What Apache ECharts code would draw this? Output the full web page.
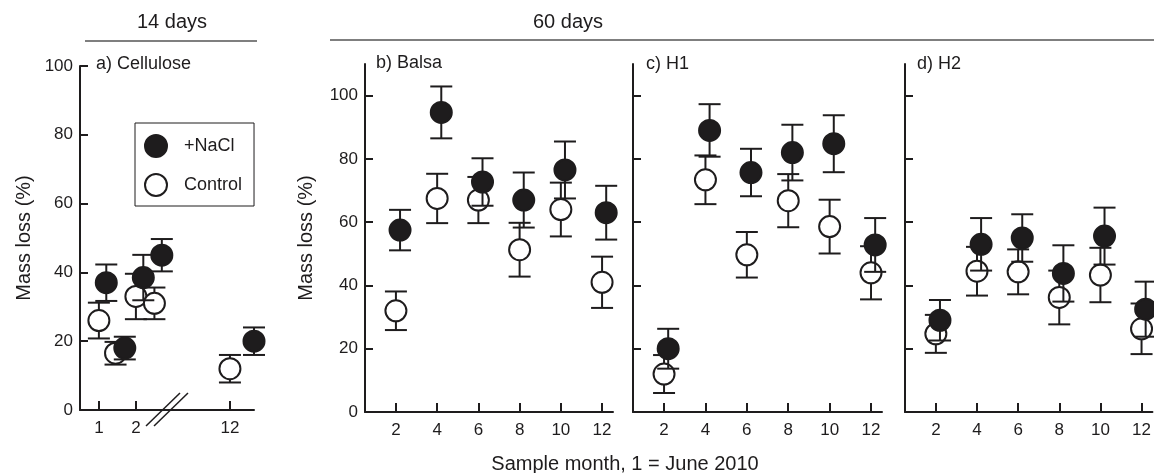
<!DOCTYPE html>
<html><head><meta charset="utf-8">
<script src="https://cdn.jsdelivr.net/npm/echarts@6/dist/echarts.min.js"></script>
<style>html,body{margin:0;padding:0;background:#fff}#c{width:1154px;height:473px}</style>
</head><body><div id="c"></div>
<script>
// ---------- data ----------
// a) Cellulose, 14 days (x = sample month as plotted, axis broken between 2.5 and 12)
const cellControlMonths = [1, 1.45, 2, 2.5, 12];
const cellControlMean   = [26, 16.5, 33, 31, 12];
const cellControlErr    = [5.2, 3.3, 6.6, 4.6, 4];
const cellNaClMonths    = [1.2, 1.7, 2.2, 2.7, 12.65];
const cellNaClMean      = [37, 18, 38.5, 45, 20];
const cellNaClErr       = [5.3, 3.3, 6.6, 4.7, 4];
const cellTickMonths    = [1, 2, 12];

// b-d) 60 days
const months60 = [2, 4, 6, 8, 10, 12];
const balsaControlMean = [32, 67.5, 67, 51.3, 64, 41];
const balsaControlErr  = [6.1, 7.8, 7.3, 8.5, 8.5, 8.1];
const balsaNaClMean    = [57.5, 94.7, 72.7, 67, 76.5, 63];
const balsaNaClErr     = [6.4, 8.2, 7.5, 8.7, 9, 8.5];
const h1ControlMean = [12, 73.4, 49.7, 66.8, 58.6, 44];
const h1ControlErr  = [6, 7.7, 7.2, 8.4, 8.5, 8.4];
const h1NaClMean    = [20, 89, 75.7, 82, 84.8, 52.8];
const h1NaClErr     = [6.3, 8.3, 7.5, 8.8, 9, 8.5];
const h2ControlMean = [24.7, 44.5, 44.3, 36.2, 43.3, 26.3];
const h2ControlErr  = [6, 7.7, 7.1, 8.5, 8.6, 8];
const h2NaClMean    = [29, 53, 55, 43.8, 55.6, 32.5];
const h2NaClErr     = [6.4, 8.3, 7.5, 8.9, 9, 8.7];

const yTicks = [0, 20, 40, 60, 80, 100];
const xTicks60 = [2, 4, 6, 8, 10, 12];
const seriesNames = ['+NaCl', 'Control'];
const panelTitles = ['a) Cellulose', 'b) Balsa', 'c) H1', 'd) H2'];

// ---------- styling ----------
const INK = '#1e1c1d';
const FONT = '"Liberation Sans", Arial, sans-serif';
const DODGE = 0.2;
// axis break mapping for panel a
function breakPos(m) { return m > 6 ? m - 12 + 4.54 : m; }

function errSeries(idx, xs, ys, es, z) {
  return {
    type: 'custom', xAxisIndex: idx, yAxisIndex: idx, z: z, silent: true, clip: false,
    encode: { x: 0, y: 1 },
    data: xs.map((x, i) => [x, ys[i], es[i]]),
    renderItem: function (params, api) {
      const x = api.value(0), y = api.value(1), e = api.value(2);
      const t = api.coord([x, y + e]), b = api.coord([x, y - e]);
      const w = 11, st = { stroke: INK, lineWidth: 2 };
      return { type: 'group', children: [
        { type: 'line', shape: { x1: t[0], y1: t[1], x2: b[0], y2: b[1] }, style: st },
        { type: 'line', shape: { x1: t[0] - w, y1: t[1], x2: t[0] + w, y2: t[1] }, style: st },
        { type: 'line', shape: { x1: b[0] - w, y1: b[1], x2: b[0] + w, y2: b[1] }, style: st }
      ]};
    }
  };
}
function pointSeries(idx, name, xs, ys, z) {
  const filled = name === seriesNames[0];
  return {
    type: 'scatter', name: name, xAxisIndex: idx, yAxisIndex: idx, z: z, clip: false,
    symbol: 'circle', symbolSize: 21,
    itemStyle: { color: filled ? INK : '#fff', borderColor: INK, borderWidth: 2, opacity: 1 },
    emphasis: { disabled: true },
    data: xs.map((x, i) => [x, ys[i]])
  };
}
function panelSeries(idx, cx, cm, ce, nx, nm, ne) {
  return [
    errSeries(idx, cx, cm, ce, 2),
    pointSeries(idx, seriesNames[1], cx, cm, 3),
    errSeries(idx, nx, nm, ne, 4),
    pointSeries(idx, seriesNames[0], nx, nm, 5)
  ];
}

const grids = [
  { left: 80, top: 66, width: 174, height: 344 },
  { left: 365, top: 64, width: 248, height: 348 },
  { left: 633, top: 64, width: 249, height: 348 },
  { left: 905, top: 64, width: 249, height: 348 }
];

const axisLine = { show: true, onZero: false, lineStyle: { color: INK, width: 2 } };
const labelStyle = { color: INK, fontSize: 17, fontFamily: FONT };

const xAxes = [
  {
    type: 'value', gridIndex: 0, min: 0.49, max: 5.19, splitLine: { show: false }, axisLine,
    axisTick: { show: true, inside: true, length: 9, lineStyle: { color: INK, width: 2 },
      customValues: cellTickMonths.map(breakPos) },
    axisLabel: Object.assign({ margin: 10, customValues: cellTickMonths.map(breakPos),
      formatter: v => { const i = cellTickMonths.findIndex(m => Math.abs(breakPos(m) - v) < 1e-6); return i >= 0 ? String(cellTickMonths[i]) : ''; } }, labelStyle)
  }
].concat([1, 2, 3].map(i => ({
  type: 'value', gridIndex: i, min: 0.5, max: 12.53, splitLine: { show: false }, axisLine,
  axisTick: { show: true, inside: true, length: 9, lineStyle: { color: INK, width: 2 }, customValues: xTicks60 },
  axisLabel: Object.assign({ margin: 10, customValues: xTicks60 }, labelStyle)
})));

const yAxes = [
  {
    type: 'value', gridIndex: 0, min: 0, max: 100, interval: 20, splitLine: { show: false }, axisLine,
    axisTick: { show: true, inside: true, length: 8, lineStyle: { color: INK, width: 2 } },
    axisLabel: Object.assign({ margin: 7 }, labelStyle),
    name: 'Mass loss (%)', nameLocation: 'middle', nameGap: 46,
    nameTextStyle: { color: INK, fontSize: 20, fontFamily: FONT }
  }
].concat([1, 2, 3].map(i => ({
  type: 'value', gridIndex: i, min: 0, max: 110, splitLine: { show: false }, axisLine,
  axisTick: { show: true, inside: true, length: 8, lineStyle: { color: INK, width: 2 }, customValues: yTicks },
  axisLabel: Object.assign({ show: i === 1, margin: 7, customValues: yTicks }, labelStyle),
  name: i === 1 ? 'Mass loss (%)' : '', nameLocation: 'middle', nameGap: 49,
  nameTextStyle: { color: INK, fontSize: 20, fontFamily: FONT }
})));

const nx60 = months60.map(m => m + DODGE);
const series = [].concat(
  panelSeries(0, cellControlMonths.map(breakPos), cellControlMean, cellControlErr,
                 cellNaClMonths.map(breakPos), cellNaClMean, cellNaClErr),
  panelSeries(1, months60, balsaControlMean, balsaControlErr, nx60, balsaNaClMean, balsaNaClErr),
  panelSeries(2, months60, h1ControlMean, h1ControlErr, nx60, h1NaClMean, h1NaClErr),
  panelSeries(3, months60, h2ControlMean, h2ControlErr, nx60, h2NaClMean, h2NaClErr)
);

const txt = (x, y, text, size, align) => ({ type: 'text', x, y, silent: true,
  style: { text, fill: INK, font: size + 'px ' + FONT, textAlign: align || 'left', textVerticalAlign: 'middle' } });

const chart = echarts.init(document.getElementById('c'), null, { renderer: 'canvas' });
chart.setOption({
  backgroundColor: '#fff',
  animation: false,
  textStyle: { fontFamily: FONT },
  grid: grids,
  xAxis: xAxes,
  yAxis: yAxes,
  legend: {
    data: seriesNames, orient: 'vertical', left: 135, top: 123,
    padding: [11, 12, 9, 9], itemWidth: 22, itemHeight: 22, itemGap: 15,
    borderColor: INK, borderWidth: 1, selectedMode: false,
    textStyle: { color: INK, fontSize: 18, fontFamily: FONT, padding: [0, 0, 0, 12] }
  },
  series: series
});

// decorations: group headers, panel titles, axis break, x title
const g = [
  txt(172, 22, '14 days', 20, 'center'),
  { type: 'line', shape: { x1: 85, y1: 41, x2: 257, y2: 41 }, style: { stroke: '#555', lineWidth: 1.5 } },
  txt(568, 22, '60 days', 20, 'center'),
  { type: 'line', shape: { x1: 330, y1: 40, x2: 1154, y2: 40 }, style: { stroke: '#555', lineWidth: 1.5 } },
  txt(96, 64, panelTitles[0], 18),
  txt(376, 63, panelTitles[1], 18),
  txt(646, 64, panelTitles[2], 18),
  txt(917, 64, panelTitles[3], 18),
  txt(625, 464, 'Sample month, 1 = June 2010', 20, 'center')
];
const bc = chart.convertToPixel({ xAxisIndex: 0 }, 2.84);
const by = chart.convertToPixel({ yAxisIndex: 0 }, 0);
[-4, 4].forEach(d => g.push({ type: 'line',
  shape: { x1: bc + d - 17, y1: by + 16, x2: bc + d + 17, y2: by - 17 },
  style: { stroke: INK, lineWidth: 1.5 } }));
chart.setOption({ graphic: g });
</script>
</body></html>
